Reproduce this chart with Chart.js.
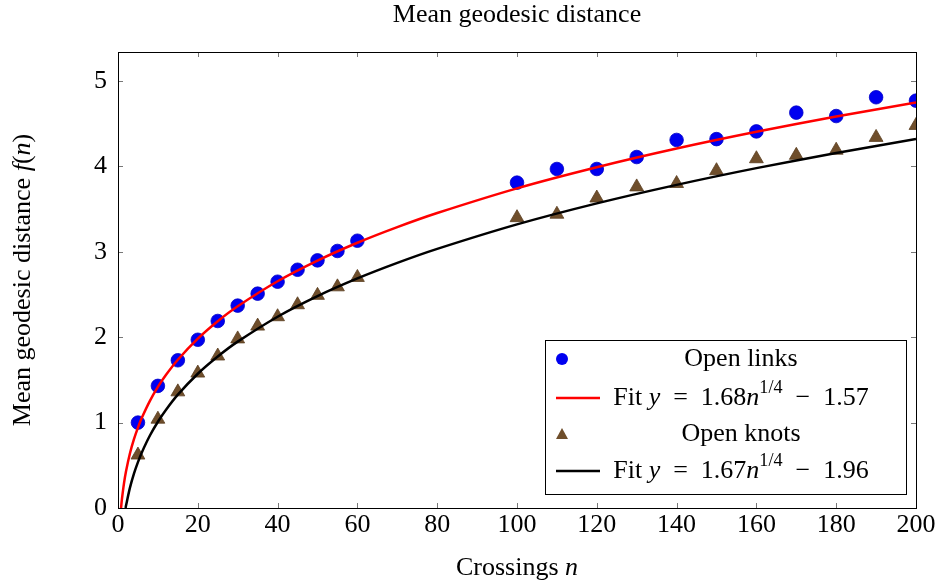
<!DOCTYPE html>
<html><head><meta charset="utf-8">
<script src="https://cdn.jsdelivr.net/npm/chart.js@4.4.1/dist/chart.umd.min.js"></script>
<style>html,body{margin:0;padding:0;background:#fff}</style>
</head><body>
<canvas id="c" width="935" height="584"></canvas>
<script>
var crossings = [5, 10, 15, 20, 25, 30, 35, 40, 45, 50, 55, 60, 100, 110, 120, 130, 140, 150, 160, 170, 180, 190, 200];
var linksMean = [1.00, 1.43, 1.73, 1.97, 2.19, 2.37, 2.51, 2.65, 2.79, 2.90, 3.01, 3.13, 3.81, 3.97, 3.97, 4.11, 4.31, 4.32, 4.41, 4.63, 4.59, 4.81, 4.77];
var knotsMean = [0.62, 1.04, 1.36, 1.58, 1.78, 1.98, 2.13, 2.24, 2.38, 2.49, 2.59, 2.70, 3.40, 3.44, 3.63, 3.76, 3.80, 3.95, 4.09, 4.13, 4.19, 4.34, 4.48];

// fit curves, sampled along the drawn lines
var fitLinksN = [0.76, 0.8, 1, 1.5, 2, 3, 4, 5, 6, 8, 10, 12, 15, 20, 25, 30, 40, 50, 60, 70, 80, 100, 120, 140, 160, 180, 200];
var fitLinksY = [0, 0.019, 0.11, 0.289, 0.428, 0.641, 0.806, 0.942, 1.059, 1.255, 1.418, 1.557, 1.736, 1.983, 2.187, 2.362, 2.655, 2.897, 3.106, 3.289, 3.454, 3.743, 3.990, 4.209, 4.405, 4.584, 4.748];
var fitKnotsN = [1.9, 2, 3, 4, 5, 6, 8, 10, 12, 15, 20, 25, 30, 40, 50, 60, 70, 80, 100, 120, 140, 160, 180, 200];
var fitKnotsY = [0, 0.026, 0.238, 0.402, 0.537, 0.654, 0.849, 1.010, 1.148, 1.327, 1.572, 1.774, 1.948, 2.240, 2.481, 2.688, 2.870, 3.034, 3.321, 3.567, 3.784, 3.980, 4.157, 4.320];

var xTicks = [0, 20, 40, 60, 80, 100, 120, 140, 160, 180, 200];
var yTicks = [0, 1, 2, 3, 4, 5];

var SERIF = "'Liberation Serif', 'DejaVu Serif', serif";
var FS = 26;
var BLUE = '#0000f0';
var BROWN = '#6f4e2b';
var SP = '\u2002';

function pts(xs, ys) {
    return xs.map(function(x, i) { return { x: x, y: ys[i] }; });
}

// draw text made of pieces: {t, it, sup}
function drawRich(ctx, parts, x, y, align, size) {
    var w = 0;
    parts.forEach(function(p) {
        var s = p.sup ? size * 0.7 : size;
        ctx.font = (p.it ? 'italic ' : '') + s + 'px ' + SERIF;
        p.w = ctx.measureText(p.t).width;
        w += p.w;
    });
    var cx = align === 'center' ? x - w / 2 : x;
    ctx.textBaseline = 'middle';
    ctx.textAlign = 'left';
    parts.forEach(function(p) {
        var s = p.sup ? size * 0.7 : size;
        ctx.font = (p.it ? 'italic ' : '') + s + 'px ' + SERIF;
        ctx.fillText(p.t, cx, p.sup ? y - size * 0.36 : y);
        cx += p.w;
    });
}

var decor = {
    id: 'decor',
    afterDraw: function(chart) {
        var ctx = chart.ctx, a = chart.chartArea;
        var xs = chart.scales.x, ys = chart.scales.y;
        ctx.save();
        ctx.fillStyle = '#000';
        // ticks inward
        ctx.strokeStyle = '#777';
        ctx.lineWidth = 1;
        ctx.beginPath();
        xTicks.forEach(function(v) {
            var px = Math.round(xs.getPixelForValue(v)) + 0.5;
            ctx.moveTo(px, a.bottom); ctx.lineTo(px, a.bottom - 5);
            ctx.moveTo(px, a.top); ctx.lineTo(px, a.top + 5);
        });
        yTicks.forEach(function(v) {
            var py = Math.round(ys.getPixelForValue(v)) + 0.5;
            ctx.moveTo(a.left, py); ctx.lineTo(a.left + 5, py);
            ctx.moveTo(a.right, py); ctx.lineTo(a.right - 5, py);
        });
        ctx.stroke();
        // frame
        ctx.strokeStyle = '#000';
        ctx.strokeRect(Math.round(a.left) + 0.5, Math.round(a.top) + 0.5, Math.round(a.right - a.left), Math.round(a.bottom - a.top));

        // title
        drawRich(ctx, [{ t: 'Mean geodesic distance' }], (a.left + a.right) / 2, 15, 'center', FS);
        // x title
        drawRich(ctx, [{ t: 'Crossings ' }, { t: 'n', it: true }], (a.left + a.right) / 2, 568, 'center', FS);
        // y title
        ctx.save();
        ctx.translate(23, (a.top + a.bottom) / 2);
        ctx.rotate(-Math.PI / 2);
        drawRich(ctx, [{ t: 'Mean geodesic distance ' }, { t: 'f', it: true }, { t: '(' }, { t: 'n', it: true }, { t: ')' }], 0, 0, 'center', FS);
        ctx.restore();

        // legend
        var L = 545, T = 340, R = 906, B = 494;
        ctx.fillStyle = '#fff';
        ctx.fillRect(L, T, R - L, B - T);
        ctx.strokeStyle = '#000';
        ctx.lineWidth = 1;
        ctx.strokeRect(L + 0.5, T + 0.5, R - L, B - T);
        var tx = 741;
        ctx.fillStyle = BLUE;
        ctx.beginPath(); ctx.arc(562, 359, 6, 0, Math.PI * 2); ctx.fill();
        ctx.fillStyle = '#000';
        drawRich(ctx, [{ t: 'Open links' }], tx, 359, 'center', FS);
        ctx.strokeStyle = '#ff0000'; ctx.lineWidth = 2.5;
        ctx.beginPath(); ctx.moveTo(556, 398); ctx.lineTo(600, 398); ctx.stroke();
        drawRich(ctx, [{ t: 'Fit ' }, { t: 'y', it: true }, { t: SP + '=' + SP + '1.68' }, { t: 'n', it: true }, { t: '1/4', sup: true }, { t: SP + '\u2212' + SP + '1.57' }], tx, 398, 'center', FS);
        ctx.fillStyle = BROWN;
        ctx.beginPath(); ctx.moveTo(562, 428); ctx.lineTo(568, 439); ctx.lineTo(556, 439); ctx.closePath(); ctx.fill();
        ctx.fillStyle = '#000';
        drawRich(ctx, [{ t: 'Open knots' }], tx, 434, 'center', FS);
        ctx.strokeStyle = '#000'; ctx.lineWidth = 2.5;
        ctx.beginPath(); ctx.moveTo(556, 471); ctx.lineTo(600, 471); ctx.stroke();
        drawRich(ctx, [{ t: 'Fit ' }, { t: 'y', it: true }, { t: SP + '=' + SP + '1.67' }, { t: 'n', it: true }, { t: '1/4', sup: true }, { t: SP + '\u2212' + SP + '1.96' }], tx, 471, 'center', FS);
        ctx.restore();
    }
};

new Chart(document.getElementById('c'), {
    type: 'scatter',
    data: {
        datasets: [{
            label: 'Open links',
            data: pts(crossings, linksMean),
            backgroundColor: BLUE,
            borderColor: '#0000c8',
            borderWidth: 0.8,
            pointRadius: 6.8,
            pointStyle: 'circle',
            order: 4
        }, {
            label: 'Fit links',
            data: pts(fitLinksN, fitLinksY),
            showLine: true,
            borderColor: '#ff0000',
            borderWidth: 2.5,
            pointRadius: 0,
            tension: 0.3,
            order: 3
        }, {
            label: 'Open knots',
            data: pts(crossings, knotsMean),
            backgroundColor: BROWN,
            borderColor: '#5a3e20',
            borderWidth: 0.8,
            pointRadius: 8,
            pointStyle: 'triangle',
            order: 2
        }, {
            label: 'Fit knots',
            data: pts(fitKnotsN, fitKnotsY),
            showLine: true,
            borderColor: '#000000',
            borderWidth: 2.5,
            pointRadius: 0,
            tension: 0.3,
            order: 1
        }]
    },
    options: {
        responsive: false,
        animation: false,
        layout: { padding: { top: 52, right: 19, left: 0, bottom: 0 } },
        plugins: { legend: { display: false }, tooltip: { enabled: false } },
        scales: {
            x: {
                type: 'linear', min: 0, max: 200,
                afterBuildTicks: function(s) { s.ticks = xTicks.map(function(v) { return { value: v }; }); },
                afterFit: function(s) { s.height = 76; s.paddingLeft = 0; s.paddingRight = 0; },
                grid: { display: false, drawTicks: false },
                border: { display: false },
                ticks: { color: '#000', padding: 2, maxRotation: 0, font: { family: SERIF, size: FS } }
            },
            y: {
                type: 'linear', min: 0, max: 5.34,
                afterBuildTicks: function(s) { s.ticks = yTicks.map(function(v) { return { value: v }; }); },
                afterFit: function(s) { s.width = 118; s.paddingTop = 0; s.paddingBottom = 0; },
                grid: { display: false, drawTicks: false },
                border: { display: false },
                ticks: { color: '#000', padding: 11, font: { family: SERIF, size: FS } }
            }
        }
    },
    plugins: [decor]
});
</script>
</body></html>
